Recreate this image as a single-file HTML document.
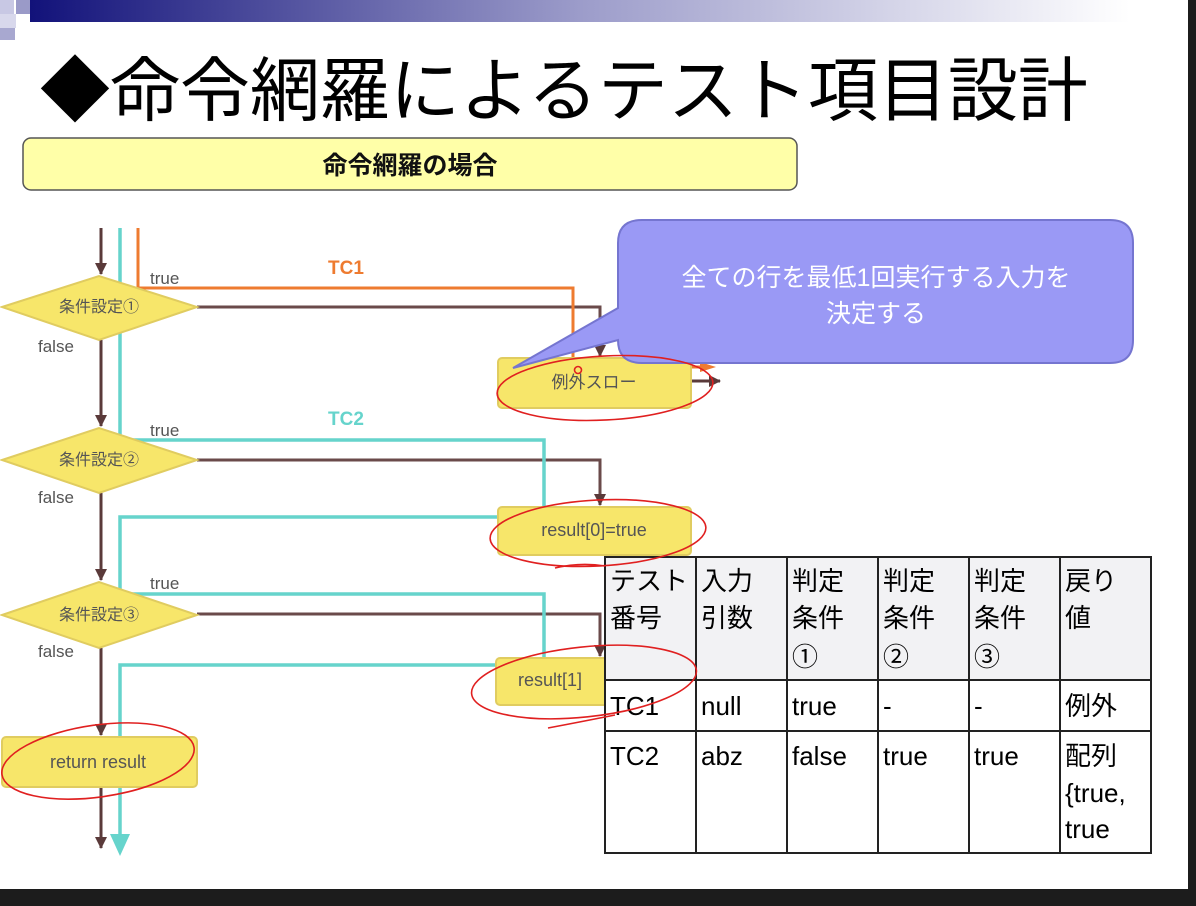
<!DOCTYPE html>
<html><head><meta charset="utf-8"><style>
html,body{margin:0;padding:0;background:#fff;}
svg{display:block;}
text{font-family:"Liberation Sans","Noto Sans CJK JP",sans-serif;}
</style></head><body>
<svg width="1196" height="906" viewBox="0 0 1196 906" xmlns="http://www.w3.org/2000/svg">
<defs>
<linearGradient id="g" x1="0" x2="1" y1="0" y2="0">
<stop offset="0" stop-color="#12127a"/><stop offset="0.5" stop-color="#9c9cca"/><stop offset="1" stop-color="#ffffff"/>
</linearGradient>
<marker id="ab" markerWidth="12" markerHeight="12" refX="11" refY="6" orient="auto" markerUnits="userSpaceOnUse"><path d="M0,0 L12,6 L0,12 z" fill="#5a3a3a"/></marker>
</defs>
<rect width="1196" height="906" fill="#fff"/>
<rect x="30" y="0" width="1100" height="22" fill="url(#g)"/>
<rect x="0" y="0" width="14" height="14" fill="#c8c8e4"/>
<rect x="16" y="0" width="14" height="14" fill="#9a9ac8"/>
<rect x="0" y="14" width="16" height="14" fill="#d8d8ec"/>
<rect x="0" y="28" width="15" height="12" fill="#a8a8d0"/>
<rect x="1188" y="0" width="8" height="906" fill="#1c1c1c"/>
<rect x="0" y="889" width="1196" height="17" fill="#1c1c1c"/>
<text x="40" y="115" font-size="70" fill="#000">◆命令網羅によるテスト項目設計</text>
<rect x="23" y="138" width="774" height="52" rx="8" fill="#ffffa8" stroke="#555" stroke-width="1.5"/>
<text x="410" y="174" font-size="25" font-weight="bold" text-anchor="middle" fill="#111">命令網羅の場合</text>

<g fill="none" stroke-width="3">
<path d="M101,228 V274" stroke="#5a3a3a" marker-end="url(#ab)"/>
<path d="M101,340 V426" stroke="#5a3a3a" marker-end="url(#ab)"/>
<path d="M101,493 V580" stroke="#5a3a3a" marker-end="url(#ab)"/>
<path d="M101,648 V735" stroke="#5a3a3a" marker-end="url(#ab)"/>
<path d="M101,787 V848" stroke="#5a3a3a" marker-end="url(#ab)"/>
<path d="M197,307 H600 V356" stroke="#6a4a4a" marker-end="url(#ab)"/>
<path d="M197,460 H600 V505" stroke="#6a4a4a" marker-end="url(#ab)"/>
<path d="M197,614 H600 V656" stroke="#6a4a4a" marker-end="url(#ab)"/>
<path d="M691,381 H720" stroke="#5a3a3a" marker-end="url(#ab)"/>
<path d="M138,228 V288 H573 V367 H700" stroke="#ee7b30"/>
<path d="M120,228 V440 H544 V517 H120 V594 H544 V665 H120 V838" stroke="#66d4cc" stroke-width="3.5"/>
</g>
<path d="M110,834 L130,834 L120,856 z" fill="#66d4cc"/>
<path d="M700,362 L716,367 L700,372 z" fill="#ee7b30"/>

<g fill="#f7e66a" stroke="#e0cc60" stroke-width="2">
<path d="M2,307 L99,276 L197,307 L99,340 z"/>
<path d="M2,460 L99,428 L197,460 L99,493 z"/>
<path d="M2,615 L99,582 L197,615 L99,648 z"/>
<rect x="498" y="358" width="193" height="50" rx="4"/>
<rect x="498" y="507" width="193" height="48" rx="4"/>
<rect x="496" y="658" width="112" height="47" rx="4"/>
<rect x="2" y="737" width="195" height="50" rx="4"/>
</g>
<g font-size="15" fill="#555">
<text x="99" y="312" text-anchor="middle" font-size="16">条件設定①</text>
<text x="99" y="465" text-anchor="middle" font-size="16">条件設定②</text>
<text x="99" y="620" text-anchor="middle" font-size="16">条件設定③</text>
<text x="150" y="284" font-size="17">true</text>
<text x="150" y="436" font-size="17">true</text>
<text x="150" y="589" font-size="17">true</text>
<text x="38" y="352" font-size="17">false</text>
<text x="38" y="503" font-size="17">false</text>
<text x="38" y="657" font-size="17">false</text>
<text x="594" y="388" text-anchor="middle" font-size="17">例外スロー</text>
<text x="594" y="536" text-anchor="middle" font-size="18">result[0]=true</text>
<text x="518" y="686" font-size="18">result[1]</text>
<text x="98" y="768" text-anchor="middle" font-size="18">return result</text>
</g>
<text x="346" y="274" font-size="19" font-weight="bold" fill="#ee7b30" text-anchor="middle">TC1</text>
<text x="346" y="425" font-size="19" font-weight="bold" fill="#66d4cc" text-anchor="middle">TC2</text>

<path d="M642,220 H1110 Q1133,220 1133,243 V340 Q1133,363 1110,363 H642 Q618,363 618,340 V340 L513,368 L618,308 V243 Q618,220 642,220 z" fill="#9a99f5" stroke="#7575d0" stroke-width="2"/>
<text x="876" y="286" font-size="25" fill="#fff" text-anchor="middle">全ての行を最低1回実行する入力を</text>
<text x="876" y="322" font-size="25" fill="#fff" text-anchor="middle">決定する</text>

<rect x="605" y="557" width="546" height="123" fill="#f2f2f4"/>
<rect x="605" y="680" width="546" height="173" fill="#fff"/>
<g stroke="#222" stroke-width="2" fill="none">
<rect x="605" y="557" width="546" height="296"/>
<path d="M605,680 H1151 M605,731 H1151 M696,557 V853 M787,557 V853 M878,557 V853 M969,557 V853 M1060,557 V853"/>
</g>
<g font-size="26" fill="#000">
<text x="610" y="590">テスト</text><text x="610" y="627">番号</text>
<text x="701" y="590">入力</text><text x="701" y="627">引数</text>
<text x="792" y="590">判定</text><text x="792" y="627">条件</text><text x="792" y="666">①</text>
<text x="883" y="590">判定</text><text x="883" y="627">条件</text><text x="883" y="666">②</text>
<text x="974" y="590">判定</text><text x="974" y="627">条件</text><text x="974" y="666">③</text>
<text x="1065" y="590">戻り</text><text x="1065" y="627">値</text>
<text x="610" y="715">TC1</text><text x="701" y="715">null</text><text x="792" y="715">true</text><text x="883" y="715">-</text><text x="974" y="715">-</text><text x="1065" y="715">例外</text>
<text x="610" y="765">TC2</text><text x="701" y="765">abz</text><text x="792" y="765">false</text><text x="883" y="765">true</text><text x="974" y="765">true</text><text x="1065" y="765">配列</text>
<text x="1065" y="802">{true,</text><text x="1065" y="838">true</text>
</g>

<g fill="none" stroke="#e02020" stroke-width="1.6">
<ellipse cx="605" cy="388" rx="108" ry="32" transform="rotate(-3 605 388)"/>
<ellipse cx="598" cy="533" rx="108" ry="33" transform="rotate(-3 598 533)"/>
<ellipse cx="584" cy="682" rx="113" ry="35" transform="rotate(-6 584 682)"/>
<ellipse cx="98" cy="761" rx="97" ry="36" transform="rotate(-8 98 761)"/>
<path d="M555,568 Q580,562 605,566"/>
<path d="M548,728 Q580,722 615,715"/>
<circle cx="578" cy="370" r="3.5"/>
</g>
</svg>
</body></html>
